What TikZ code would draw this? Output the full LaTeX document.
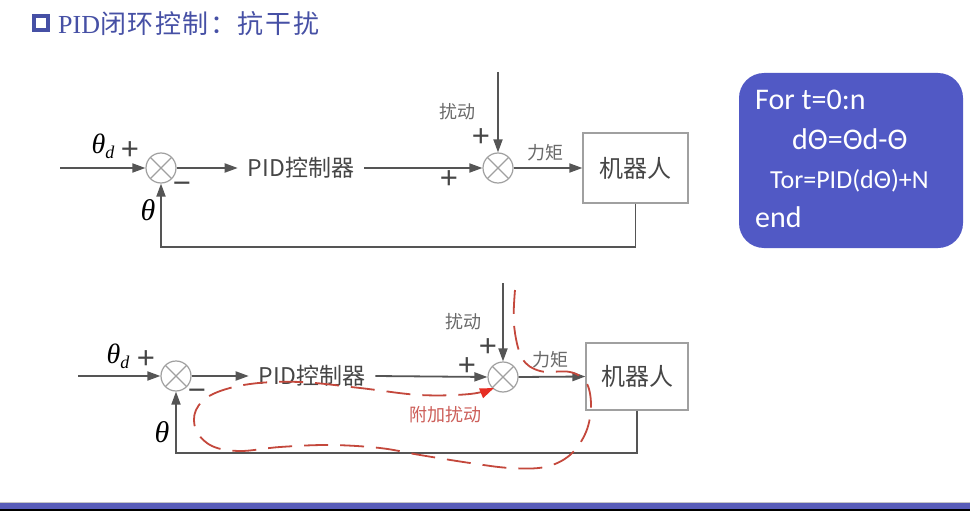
\documentclass[tikz,border=0pt]{standalone}
\usepackage{fontspec}
\setmainfont{Liberation Serif}
\newfontfamily\cjk{Noto Sans CJK SC}
\newfontfamily\codefont{Carlito}
\newfontfamily\pmfont{Liberation Sans}
\usetikzlibrary{arrows.meta}
\definecolor{lineg}{RGB}{85,85,85}
\definecolor{circg}{RGB}{160,160,160}
\definecolor{txtg}{RGB}{70,70,70}
\definecolor{lblg}{RGB}{105,105,105}
\definecolor{boxblue}{RGB}{81,89,197}
\definecolor{titblue}{RGB}{70,80,165}
\definecolor{barblue}{RGB}{88,92,185}
\definecolor{loopred}{RGB}{196,72,60}
\definecolor{arrred}{RGB}{230,45,35}
\definecolor{notered}{RGB}{205,95,90}
\begin{document}
\begin{tikzpicture}[x=1pt,y=-1pt]
  \tikzstyle{every node}=[inner sep=0pt]
  \tikzstyle{sumnode}=[circle,draw=circg,line width=1.2pt,minimum size=30pt,
    path picture={\draw[circg,line width=1.2pt]
      (path picture bounding box.north west) -- (path picture bounding box.south east)
      (path picture bounding box.north east) -- (path picture bounding box.south west);}]
  \tikzstyle{block}=[draw=circg,line width=1.2pt,text=txtg,font=\cjk\fontsize{24}{24}\selectfont]
  \tikzstyle{ctrl}=[inner xsep=10pt,text=txtg,font=\cjk\fontsize{23}{23}\selectfont]
  \tikzstyle{sig}=[draw=lineg,line width=1.8pt,-{Triangle[length=13pt,width=9pt]}]
  \tikzstyle{lbl}=[text=lblg,font=\cjk\fontsize{18}{18}\selectfont]
  \tikzstyle{pm}=[text=txtg,font=\pmfont\fontsize{31}{31}\selectfont]
  \tikzstyle{ang}=[text=black,font=\fontsize{30}{30}\selectfont\itshape]
  \tikzstyle{code}=[anchor=base west,text=white,font=\codefont\fontsize{30}{30}\selectfont]
  \useasboundingbox (0,0) rectangle (970,511);
  \fill[white] (0,0) rectangle (970,511);

  % title
  \node[draw=titblue,line width=3.5pt,minimum size=14pt] (ticon) at (41,23) {};
  \node[anchor=west,text=titblue,font=\fontsize{26}{26}\selectfont] (title) at (58,24)
    {PID{\cjk\addfontfeature{LetterSpace=6} 闭环控制：抗干扰}};

  % upper loop
  \coordinate (in1) at (60,168);
  \node[sumnode] (sum1) at (161,168) {};
  \node[ctrl] (ctrl1) at (301,168) {PID控制器};
  \node[sumnode] (sum2) at (498,168) {};
  \coordinate (dist1) at (498,72);
  \node[block,minimum width=105pt,minimum height=70pt] (robot1) at (635.5,168) {机器人};
  \draw[sig] (in1) -- (sum1.west);
  \draw[sig] (sum1.east) -- (ctrl1.west);
  \draw[sig] (ctrl1.east) -- (sum2.west);
  \draw[sig] (dist1) -- (sum2.north);
  \draw[sig] (sum2.east) -- (robot1.west);
  \draw[sig] (robot1.south) -- ++(0,43) -| (sum1.south);
  \node[ang,font=\fontsize{28}{28}\selectfont\itshape] (thd1) at (103,146)
    {θ\raisebox{-0.4ex}{\fontsize{18}{18}\selectfont d}};
  \node[pm] (p1) at (130,151) {+};
  \node[pm] (m1) at (182,188) {−};
  \node[ang] (th1) at (148,210) {θ};
  \node[lbl] (dl1) at (457,112) {扰动};
  \node[pm] (p2) at (481,138) {+};
  \node[pm] (p3) at (449,180) {+};
  \node[lbl] (tq1) at (545,153) {力矩};

  % lower loop
  \coordinate (in2) at (78,376);
  \node[sumnode] (sum3) at (176,376) {};
  \node[ctrl] (ctrl2) at (312,376) {PID控制器};
  \node[sumnode] (sum4) at (503,377) {};
  \coordinate (dist2) at (503,283);
  \node[block,minimum width=102pt,minimum height=67pt] (robot2) at (637,376.5) {机器人};
  \draw[sig] (in2) -- (sum3.west);
  \draw[sig] (sum3.east) -- (ctrl2.west);
  \draw[sig] (ctrl2.east) -- (sum4.west);
  \draw[sig] (dist2) -- (sum4.north);
  \draw[sig] (sum4.east) -- (robot2.west);
  \draw[sig] (robot2.south) -- ++(0,42) -| (sum3.south);
  \node[ang,font=\fontsize{28}{28}\selectfont\itshape] (thd2) at (118,356)
    {θ\raisebox{-0.4ex}{\fontsize{18}{18}\selectfont d}};
  \node[pm] (p4) at (146,360) {+};
  \node[pm] (m2) at (197,395) {−};
  \node[ang] (th2) at (162,432) {θ};
  \node[lbl] (dl2) at (463,322) {扰动};
  \node[pm] (p5) at (488,348) {+};
  \node[pm] (p6) at (467,367) {+};
  \node[lbl] (tq2) at (550,360) {力矩};
  \node[lbl,text=notered] (extra) at (445,415) {附加扰动};
  % red loop of the extra disturbance
  \draw[loopred,line width=1.8pt,dash pattern=on 24pt off 12pt,
        -{Triangle[length=14pt,width=10pt,color=arrred]}]
    plot[smooth,tension=0.6] coordinates {(515,290) (514,325) (522,358) (540,371)
      (570,372) (586,382) (591,405) (586,432) (570,455) (545,467) (510,468)
      (470,463) (420,455) (380,448) (330,445) (280,447) (240,451) (212,446)
      (196,430) (196,410) (213,394) (250,384) (300,382) (360,388) (420,395)
      (470,394) (494,388)};

  % code box
  \node[fill=boxblue,rounded corners=25pt,minimum width=224pt,minimum height=175pt]
    (codebox) at (851,160.5) {};
  \node[code] (c1) at (755,110) {For t=0:n};
  \node[code] (c2) at (792,149) {dΘ=Θd-Θ};
  \node[code,font=\codefont\fontsize{26}{26}\selectfont] (c3) at (770,188) {Tor=PID(dΘ)+N};
  \node[code] (c4) at (755,227) {end};

  % bottom bar
  \fill[gray!45] (0,501.5) rectangle (970,503);
  \fill[barblue] (0,503) rectangle (970,509);
  \fill[black] (0,509) rectangle (970,511);
\end{tikzpicture}
\end{document}
